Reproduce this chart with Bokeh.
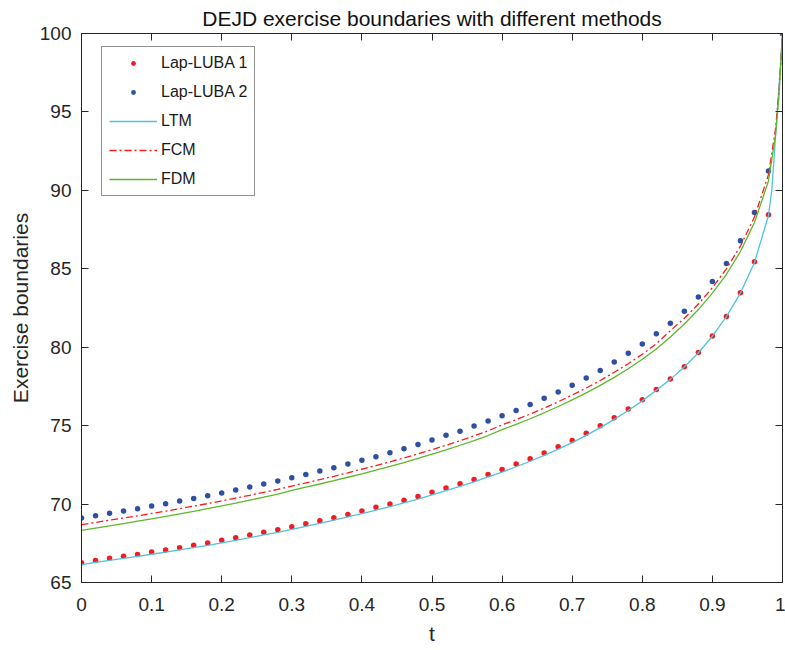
from bokeh.plotting import figure
from bokeh.models import Range1d, LinearAxis, FixedTicker, CustomJSTickFormatter, Legend, LegendItem
from bokeh.embed import file_html
from bokeh.resources import INLINE

# ---------------- data ----------------
t_dots = [0.00, 0.02, 0.04, 0.06, 0.08, 0.10, 0.12, 0.14, 0.16, 0.18,
          0.20, 0.22, 0.24, 0.26, 0.28, 0.30, 0.32, 0.34, 0.36, 0.38,
          0.40, 0.42, 0.44, 0.46, 0.48, 0.50, 0.52, 0.54, 0.56, 0.58,
          0.60, 0.62, 0.64, 0.66, 0.68, 0.70, 0.72, 0.74, 0.76, 0.78,
          0.80, 0.82, 0.84, 0.86, 0.88, 0.90, 0.92, 0.94, 0.96, 0.98, 1.00]

luba1 = [66.26, 66.41, 66.54, 66.67, 66.79, 66.94, 67.07, 67.22, 67.37, 67.52,
         67.69, 67.86, 68.03, 68.20, 68.37, 68.55, 68.75, 68.94, 69.13, 69.34,
         69.56, 69.79, 70.00, 70.24, 70.49, 70.75, 71.02, 71.30, 71.57, 71.89,
         72.21, 72.55, 72.89, 73.25, 73.66, 74.06, 74.51, 75.00, 75.50, 76.06,
         76.65, 77.31, 77.98, 78.76, 79.67, 80.71, 81.96, 83.47, 85.45, 88.44, 100.0]

luba2 = [69.11, 69.26, 69.41, 69.56, 69.70, 69.87, 70.02, 70.19, 70.36, 70.53,
         70.70, 70.89, 71.09, 71.28, 71.47, 71.68, 71.89, 72.11, 72.32, 72.55,
         72.79, 73.02, 73.27, 73.53, 73.80, 74.08, 74.38, 74.65, 74.97, 75.29,
         75.63, 75.97, 76.35, 76.74, 77.14, 77.57, 78.03, 78.52, 79.05, 79.61,
         80.20, 80.86, 81.53, 82.30, 83.20, 84.19, 85.34, 86.79, 88.59, 91.23, 100.0]

t_ltm = [0.00, 0.02, 0.04, 0.06, 0.08, 0.10, 0.12, 0.14, 0.16, 0.18,
         0.20, 0.22, 0.24, 0.26, 0.28, 0.30, 0.32, 0.34, 0.36, 0.38,
         0.40, 0.42, 0.44, 0.46, 0.48, 0.50, 0.52, 0.54, 0.56, 0.58,
         0.60, 0.62, 0.64, 0.66, 0.68, 0.70, 0.72, 0.74, 0.76, 0.78,
         0.80, 0.82, 0.84, 0.86, 0.88, 0.90, 0.92, 0.94, 0.96, 0.98,
         0.985, 0.99, 0.995, 1.00]
ltm = [66.14, 66.28, 66.41, 66.54, 66.67, 66.80, 66.94, 67.08, 67.22, 67.37,
       67.53, 67.69, 67.86, 68.03, 68.20, 68.39, 68.58, 68.77, 68.97, 69.18,
       69.39, 69.61, 69.84, 70.08, 70.32, 70.58, 70.85, 71.13, 71.42, 71.73,
       72.04, 72.38, 72.73, 73.10, 73.50, 73.92, 74.38, 74.87, 75.40, 75.97,
       76.58, 77.26, 77.95, 78.74, 79.65, 80.70, 81.95, 83.45, 85.40, 88.40,
       90.10, 93.40, 96.60, 100.0]

t_fd = [0.00, 0.02, 0.04, 0.06, 0.08, 0.10, 0.12, 0.14, 0.16, 0.18,
        0.20, 0.22, 0.24, 0.26, 0.28, 0.30, 0.32, 0.34, 0.36, 0.38,
        0.40, 0.42, 0.44, 0.46, 0.48, 0.50, 0.52, 0.54, 0.56, 0.58,
        0.60, 0.62, 0.64, 0.66, 0.68, 0.70, 0.72, 0.74, 0.76, 0.78,
        0.80, 0.82, 0.84, 0.86, 0.88, 0.90, 0.92, 0.94, 0.96, 0.98,
        0.99, 0.995, 1.00]
fcm = [68.69, 68.83, 68.97, 69.11, 69.25, 69.40, 69.55, 69.71, 69.87, 70.03,
       70.20, 70.38, 70.56, 70.75, 70.94, 71.15, 71.35, 71.56, 71.77, 71.99,
       72.22, 72.45, 72.69, 72.94, 73.20, 73.47, 73.75, 74.04, 74.35, 74.67,
       75.05, 75.38, 75.74, 76.12, 76.52, 76.95, 77.40, 77.88, 78.40, 78.95,
       79.55, 80.22, 81.05, 81.85, 82.75, 83.80, 85.00, 86.45, 88.30, 91.00,
       93.90, 96.30, 100.0]
fdm = [68.32, 68.47, 68.61, 68.76, 68.91, 69.06, 69.22, 69.38, 69.54, 69.71,
       69.88, 70.06, 70.25, 70.44, 70.64, 70.88, 71.08, 71.28, 71.49, 71.71,
       71.93, 72.16, 72.40, 72.65, 72.91, 73.18, 73.46, 73.75, 74.05, 74.37,
       74.75, 75.08, 75.44, 75.82, 76.22, 76.64, 77.09, 77.57, 78.08, 78.63,
       79.23, 79.88, 80.65, 81.48, 82.40, 83.45, 84.65, 86.10, 87.95, 90.60,
       93.50, 96.00, 100.0]

x_ticks = [0, 0.1, 0.2, 0.3, 0.4, 0.5, 0.6, 0.7, 0.8, 0.9, 1]
x_tick_labels = ["0", "0.1", "0.2", "0.3", "0.4", "0.5", "0.6", "0.7", "0.8", "0.9", "1"]
y_ticks = [65, 70, 75, 80, 85, 90, 95, 100]

# ---------------- styling ----------------
FONT = "Liberation Sans"
AX = "#262626"
C_RED = "#f01c24"
C_BLUE = "#2f4fa3"
C_LTM = "#4fc3dc"
C_FCM = "#ff1a1a"
C_FDM = "#5cb82a"

p = figure(width=785, height=650, output_backend="svg", toolbar_location=None,
           x_range=Range1d(0, 1), y_range=Range1d(65, 100),
           min_border_left=81, min_border_right=3, min_border_top=33, min_border_bottom=68,
           background_fill_color="white", border_fill_color="white")

p.title.text = "DEJD exercise boundaries with different methods"
p.title.align = "center"
p.title.text_font = FONT
p.title.text_font_size = "21px"
p.title.text_font_style = "normal"
p.title.text_color = "#111111"
p.title.standoff = 8

p.xgrid.visible = False
p.ygrid.visible = False
p.outline_line_color = AX
p.outline_line_width = 1

xl = {}
for v, s in zip(x_ticks, x_tick_labels):
    xl[v] = s

def style_axis(ax, ticks, labels=True):
    ax.ticker = FixedTicker(ticks=ticks)
    ax.minor_tick_line_color = None
    ax.major_tick_in = 7
    ax.major_tick_out = 0
    ax.major_tick_line_color = AX
    ax.axis_line_color = AX
    ax.axis_line_width = 1
    ax.major_label_text_font = FONT
    ax.major_label_text_font_size = "19px"
    ax.major_label_text_color = AX
    ax.axis_label_text_font = FONT
    ax.axis_label_text_font_size = "21px"
    ax.axis_label_text_font_style = "normal"
    ax.axis_label_text_color = AX
    if not labels:
        ax.formatter = CustomJSTickFormatter(code="return ''")
        ax.major_label_standoff = 0

xa = p.xaxis[0]
style_axis(xa, x_ticks)
xa.major_label_overrides = xl
xa.major_label_standoff = 15
xa.axis_label = "t"
xa.axis_label_standoff = 8

ya = p.yaxis[0]
style_axis(ya, y_ticks)
ya.major_label_standoff = 10
ya.axis_label = "Exercise boundaries"
ya.axis_label_standoff = 5

top = LinearAxis()
style_axis(top, x_ticks, labels=False)
p.add_layout(top, "above")
right = LinearAxis()
style_axis(right, y_ticks, labels=False)
p.add_layout(right, "right")

# ---------------- glyphs ----------------
r1 = p.scatter(t_dots, luba1, size=5.5, color=C_RED, line_color=None)
r2 = p.scatter(t_dots, luba2, size=5.5, color=C_BLUE, line_color=None)
r3 = p.line(t_ltm, ltm, line_color=C_LTM, line_width=1.3)
r4 = p.line(t_fd, fcm, line_color=C_FCM, line_width=1.3, line_dash="7 3 2 3")
r5 = p.line(t_fd, fdm, line_color=C_FDM, line_width=1.3)

legend = Legend(items=[
    LegendItem(label="Lap-LUBA 1", renderers=[r1]),
    LegendItem(label="Lap-LUBA 2", renderers=[r2]),
    LegendItem(label="LTM", renderers=[r3]),
    LegendItem(label="FCM", renderers=[r4]),
    LegendItem(label="FDM", renderers=[r5]),
], location=(20, 386))
legend.label_text_font = FONT
legend.label_text_font_size = "16px"
legend.label_text_color = "#1a1a1a"
legend.glyph_width = 48
legend.glyph_height = 12
legend.label_height = 12
legend.spacing = 11
legend.padding = 7
legend.margin = 0
legend.label_standoff = 4
legend.border_line_color = AX
legend.border_line_width = 1
legend.background_fill_color = "white"
legend.background_fill_alpha = 1
p.add_layout(legend, "center")

open("out.html", "w").write(file_html(p, INLINE))
